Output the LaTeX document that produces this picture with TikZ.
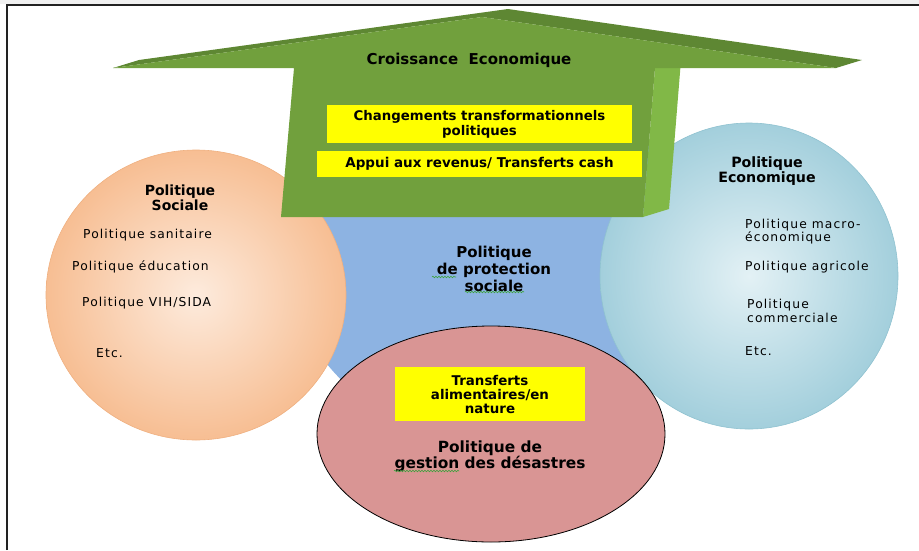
\documentclass[tikz,border=0pt]{standalone}
\usepackage{fontspec}
\setmainfont{DejaVu Sans}
\newfontfamily\itemfont{DejaVu Sans}[LetterSpace=9]
\usetikzlibrary{decorations.pathmorphing}
\definecolor{gfront}{HTML}{71A03D}
\definecolor{gdark}{HTML}{5E8733}
\definecolor{gside}{HTML}{81B847}
\definecolor{bluec}{HTML}{8DB3E2}
\definecolor{redc}{HTML}{D99594}
\definecolor{peachin}{HTML}{FDEBDD}
\definecolor{peachout}{HTML}{F7BE93}
\definecolor{peachedge}{HTML}{EFB080}
\definecolor{lbin}{HTML}{E3F1F5}
\definecolor{lbout}{HTML}{A3CFDC}
\definecolor{lbedge}{HTML}{8FC2D0}
\definecolor{ybox}{HTML}{FFFF00}
\definecolor{squig}{HTML}{3DA23D}
\definecolor{framec}{HTML}{222222}
\begin{document}
\begin{tikzpicture}[x=1pt,y=-1pt,
  hd/.style={font=\bfseries\fontsize{14}{16}\selectfont, align=center, inner sep=0pt, text=black},
  itm/.style={font=\itemfont\fontsize{12.3}{13.5}\selectfont, align=left, anchor=west, inner sep=0pt, text=black},
  ybx/.style={fill=ybox, draw=none, align=center, inner sep=0pt, font=\bfseries\fontsize{13.3}{15}\selectfont},
  squiggle/.style={draw=squig, line width=0.6pt, decorate, decoration={snake, amplitude=0.8pt, segment length=3pt}}
]
\useasboundingbox (0,0) rectangle (919,550);
% frame
\fill[gray!12] (0,0) rectangle (919,4.2);
\draw[framec, line width=1.5pt] (7,550) -- (7,5) -- (919,5);
% central blue disc
\fill[bluec] (480,240) circle [radius=197];
% left ellipse (Politique Sociale)
\shade[inner color=peachin, outer color=peachout, draw=peachedge, line width=0.6pt] (196,295) ellipse [x radius=150, y radius=145];
% right ellipse (Politique Economique)
\shade[inner color=lbin, outer color=lbout, draw=lbedge, line width=0.6pt] (749,276) ellipse [x radius=149, y radius=153];
% bottom ellipse (gestion des desastres)
\filldraw[fill=redc, draw=black, line width=0.8pt] (491,434) ellipse [x radius=174, y radius=108];
% green arrow
\fill[gside] (655,68) -- (681,60) -- (669,209) -- (643,217) -- cycle;
\fill[gdark] (113,68) -- (139,60) -- (508,9) -- (862,60) -- (836,68) -- (482,17) -- cycle;
\fill[gfront] (113,68) -- (482,17) -- (836,68) -- (655,68) -- (643,217) -- (281,217) -- (294,68) -- cycle;
% title
\node[hd, font=\bfseries\fontsize{15}{16}\selectfont] (title) at (469,60) {Croissance\ \ Economique};
% yellow boxes
\node[ybx, minimum width=305pt, minimum height=38pt] (chg) at (479.5,124) {Changements transformationnels\\politiques};
\node[ybx, minimum width=325pt, minimum height=26pt, font=\bfseries\fontsize{13.5}{15}\selectfont] (cash) at (479.5,164) {Appui aux revenus/ Transferts cash};
\node[ybx, minimum width=190pt, minimum height=54pt, font=\bfseries\fontsize{13.4}{14}\selectfont] (food) at (490,394) {Transferts\\alimentaires/en\\nature};
% left ellipse texts
\node[hd, font=\bfseries\fontsize{14}{15}\selectfont] (soc) at (180,197.5) {Politique\\Sociale};
\node[itm] (san) at (83,235) {Politique sanitaire};
\node[itm] (edu) at (72,267) {Politique éducation};
\node[itm] (vih) at (82,303) {Politique VIH/SIDA};
\node[itm] (etcl) at (96,353) {Etc.};
% right ellipse texts
\node[hd, font=\bfseries\fontsize{14.2}{15}\selectfont] (eco) at (767,171.5) {Politique\\Economique};
\node[itm] (mac) at (745,231.5) {Politique macro-\\économique};
\node[itm] (agr) at (745,267) {Politique agricole};
\node[itm] (com) at (747,311) {Politique\\commerciale};
\node[itm] (etcr) at (745,351) {Etc.};
% centre texts
\node[hd, font=\bfseries\fontsize{15}{17}\selectfont] (prot) at (494,269) {Politique\\de protection\\sociale};
\node[hd, font=\bfseries\fontsize{15.4}{16}\selectfont] (des) at (490,456) {Politique de\\gestion des désastres};
% spelling squiggles
\draw[squiggle] (432,277) -- (456,277);
\draw[squiggle] (465,292) -- (524,292);
\draw[squiggle] (394,471) -- (459,471);
\end{tikzpicture}
\end{document}
